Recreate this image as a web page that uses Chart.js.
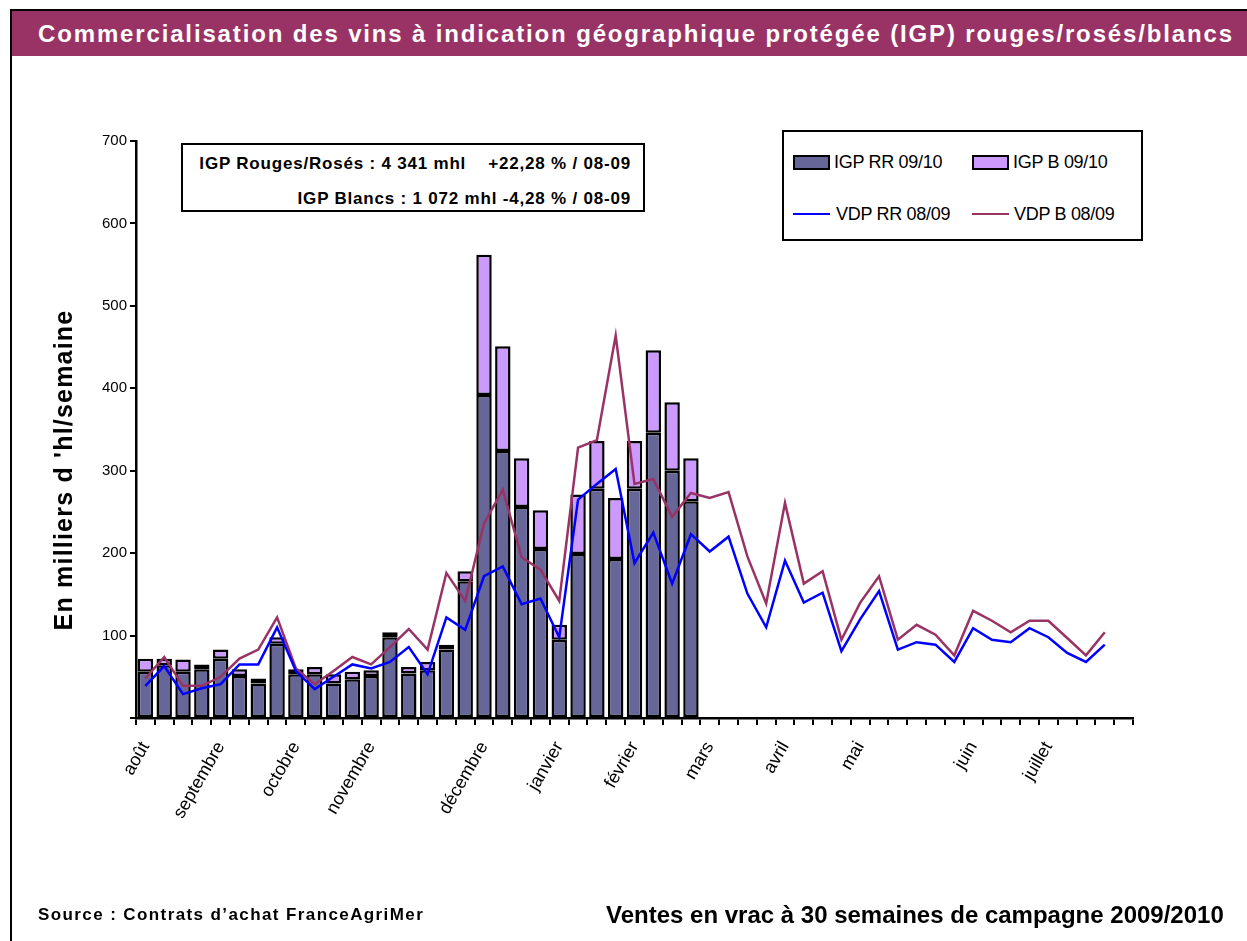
<!DOCTYPE html>
<html>
<head>
<meta charset="utf-8">
<script src="https://cdn.jsdelivr.net/npm/chart.js@4"></script>
<style>
  body { margin: 0; background: #fff; font-family: "Liberation Sans", Arial, sans-serif; }
  #page { position: relative; width: 1247px; height: 941px; overflow: hidden; }
  #frame { position: absolute; left: 10px; top: 9px; right: -10px; bottom: -10px; border-top: 2px solid #000; border-left: 2px solid #000; }
  #titleBar { position: absolute; left: 12px; top: 11px; width: 1235px; height: 45px; background: #993366; }
  #titleBar span { position: absolute; left: 26px; top: 0; line-height: 45px; color: #fff; font-weight: bold; font-size: 24px; letter-spacing: 1.85px; white-space: nowrap; }
  canvas { position: absolute; left: 0; top: 0; }
  #yTitle { position: absolute; left: -137px; top: 455px; width: 400px; height: 30px; line-height: 30px; text-align: center; font-weight: bold; font-size: 25px; letter-spacing: 1.2px; transform: rotate(-90deg); white-space: nowrap; }
  #note { position: absolute; left: 181px; top: 143px; width: 464px; height: 69px; box-sizing: border-box; border: 2px solid #000; background: #fff; }
  #note div { position: absolute; right: 12px; font-weight: bold; font-size: 17px; letter-spacing: 0.8px; white-space: pre; line-height: 20px; }
  #legend { position: absolute; left: 782px; top: 130px; width: 361px; height: 111px; box-sizing: border-box; border: 2px solid #000; background: #fff; font-size: 18px; }
  .sw { position: absolute; width: 37px; height: 15px; box-sizing: border-box; border: 2px solid #000; }
  .ln { position: absolute; width: 37px; height: 2px; }
  .lt { position: absolute; line-height: 20px; white-space: nowrap; letter-spacing: -0.3px; }
  .foot { position: absolute; font-weight: bold; white-space: nowrap; }
</style>
</head>
<body>
<div id="page">
  <div id="frame"></div>
  <div id="titleBar"><span>Commercialisation des vins à indication géographique protégée (IGP) rouges/rosés/blancs</span></div>
  <canvas id="chart" width="1247" height="941"></canvas>
  <div id="yTitle">En milliers d 'hl/semaine</div>
  <div id="note">
    <div style="top:9px">IGP Rouges/Rosés : 4 341 mhl    +22,28 % / 08-09</div>
    <div style="top:44px">IGP Blancs : 1 072 mhl -4,28 % / 08-09</div>
  </div>
  <div id="legend">
    <div class="sw" style="left:9px;top:23px;background:#666699"></div>
    <div class="lt" style="left:50px;top:20px">IGP RR 09/10</div>
    <div class="sw" style="left:188px;top:23px;background:#CC99FF"></div>
    <div class="lt" style="left:229px;top:20px">IGP B 09/10</div>
    <div class="ln" style="left:9px;top:81px;background:#0000FF"></div>
    <div class="lt" style="left:52px;top:72px">VDP RR 08/09</div>
    <div class="ln" style="left:188px;top:81px;background:#993366"></div>
    <div class="lt" style="left:230px;top:72px">VDP B 08/09</div>
  </div>
  <div class="foot" style="left:38px;top:905px;font-size:17px;letter-spacing:1.4px">Source : Contrats d’achat FranceAgriMer</div>
  <div class="foot" style="left:606px;top:901px;font-size:24px">Ventes en vrac à 30 semaines de campagne 2009/2010</div>
</div>

<script>
//  DATA
var nbWeeks = 53;
var monthNames = ["août", "septembre", "octobre", "novembre", "décembre", "janvier",
  "février", "mars", "avril", "mai", "juin", "juillet"];
var monthWeek = [0, 4, 8, 12, 18, 22, 26, 30, 34, 38, 44, 48];

// campagne 2009/10 (30 semaines)
var igpRR = [56, 64, 56, 59, 72, 51, 42, 90, 53, 53, 42, 47, 51, 98, 54,
  58, 83, 166, 392, 324, 256, 205, 95, 199, 278, 193, 278, 346, 300, 263];
var igpB = [16, 8, 15, 6, 11, 8, 6, 8, 6, 9, 11, 9, 7, 6, 8,
  10, 6, 12, 170, 127, 59, 47, 18, 72, 58, 74, 58, 100, 83, 52];

// campagne 2008/09
var vdpRR = [39, 63, 29, 36, 41, 65, 65, 110, 57, 35, 50, 65, 60, 68, 86,
  53, 122, 107, 172, 184, 138, 145, 98, 265, 284, 302, 188, 225, 163, 223,
  202, 220, 151, 110, 191, 140, 152, 81, 120, 154, 83, 92, 89, 68, 109,
  95, 92, 109, 98, 79, 68, 89];
var vdpB = [48, 74, 39, 39, 50, 72, 83, 122, 60, 41, 57, 74, 65, 86, 108,
  83, 176, 142, 236, 277, 195, 180, 142, 328, 337, 464, 284, 290, 244, 273,
  267, 274, 196, 139, 261, 163, 178, 95, 140, 172, 95, 113, 101, 76, 130,
  118, 104, 118, 118, 97, 76, 104];

//  LABELS
var labels = [];
for (var i = 0; i < nbWeeks; i++) labels.push("");
for (var i = 0; i < monthNames.length; i++) labels[monthWeek[i]] = monthNames[i];

var FONT = "'Liberation Sans', Arial, sans-serif";

function barSet(label, data, color, order) {
  return {
    label: label,
    data: data,
    backgroundColor: color,
    borderColor: "#000",
    borderWidth: 2.5,
    borderSkipped: false,
    stack: "igp",
    order: order,
    barPercentage: 0.82,
    categoryPercentage: 1,
  };
}

function lineSet(label, data, color, order) {
  return {
    type: "line",
    label: label,
    data: data,
    borderColor: color,
    borderWidth: 2.5,
    pointRadius: 0,
    tension: 0,
    fill: false,
    stack: label,
    order: order,
  };
}

//  CHART
new Chart(document.getElementById("chart"), {
  type: "bar",
  data: {
    labels: labels,
    datasets: [
      barSet("IGP RR 09/10", igpRR, "#666699", 2),
      barSet("IGP B 09/10", igpB, "#CC99FF", 3),
      lineSet("VDP RR 08/09", vdpRR, "#0000FF", 0),
      lineSet("VDP B 08/09", vdpB, "#993366", 1),
    ],
  },
  options: {
    responsive: false,
    animation: false,
    devicePixelRatio: 1,
    layout: { padding: { left: 20, top: 141, right: 114, bottom: 20 } },
    plugins: { legend: { display: false }, tooltip: { enabled: false } },
    scales: {
      x: {
        stacked: true,
        grid: { drawOnChartArea: false, tickLength: 7, color: "#000", lineWidth: 2 },
        border: { color: "#000", width: 2.5 },
        ticks: {
          autoSkip: false,
          minRotation: 60,
          maxRotation: 60,
          padding: 13,
          color: "#000",
          font: { family: FONT, size: 18 },
        },
        afterFit: function (s) { s.height = 203; },
      },
      y: {
        stacked: true,
        min: 0,
        max: 700,
        grid: { drawOnChartArea: false, tickLength: 6, color: "#000", lineWidth: 2 },
        border: { color: "#000", width: 2.5 },
        ticks: {
          stepSize: 100,
          padding: 3,
          color: "#000",
          font: { family: FONT, size: 15 },
          callback: function (v) { return v === 0 ? "" : v; },
        },
        afterFit: function (s) { s.width = 116; },
      },
    },
  },
});
</script>
</body>
</html>
